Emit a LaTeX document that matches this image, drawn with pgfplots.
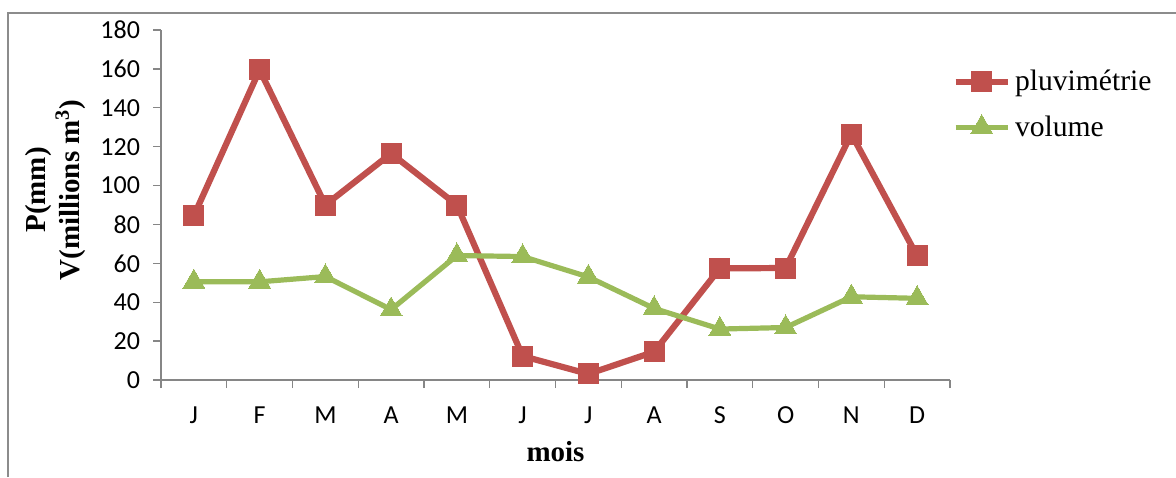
\documentclass[border=0pt]{standalone}
\usepackage{pgfplots}
\pgfplotsset{compat=1.18}
\usepackage{fontspec}
\setmainfont{Liberation Serif}
\newfontfamily\calib{Carlito}
\definecolor{cred}{HTML}{C0504D}
\definecolor{cgreen}{HTML}{9BBB59}
\definecolor{axgray}{HTML}{868686}
\begin{document}
\begin{tikzpicture}
\useasboundingbox (0,0) rectangle (588pt,238.5pt);
\draw[color=gray!90, line width=0.6pt] (4pt,0) -- (4pt,232pt) -- (588pt,232pt);
\begin{axis}[
  at={(80.5pt,48.5pt)}, anchor=south west,
  scale only axis, width=394.5pt, height=175pt,
  xmin=0.5, xmax=12.5, ymin=0, ymax=180,
  axis lines*=left,
  axis line style={draw=axgray, line width=0.7pt},
  xtick={1,...,12},
  xticklabels={J,F,M,A,M,J,J,A,S,O,N,D},
  xtick style={draw=none},
  minor xtick={0.5,1.5,...,12.5},
  minor x tick style={draw=axgray, line width=0.7pt},
  ytick={0,20,...,180},
  ytick style={draw=axgray, line width=0.7pt},
  tick align=outside,
  major tick length=4pt, minor tick length=4pt,
  ticklabel style={font=\calib\fontsize{13}{15}\selectfont},
  /pgf/number format/assume math mode=true,
  yticklabel style={xshift=-3pt},
  xticklabel style={yshift=-6pt},
  xlabel={\textbf{mois}},
  xlabel style={font=\fontsize{14.5}{16}\selectfont, at={(axis description cs:0.5,-0.205)}, anchor=center},
  ylabel={\textbf{P(mm)}\\\textbf{V(millions m\textsuperscript{3})}},
  ylabel style={font=\fontsize{14.5}{17}\selectfont, align=center, at={(axis description cs:-0.134,0.543)}, anchor=center, rotate=0},
  legend style={draw=none, fill=none, at={(axis description cs:0.995,0.91)}, anchor=north west,
    font=\fontsize{14.8}{16}\selectfont, row sep=7pt, cells={anchor=west}},
  legend image code/.code={\draw[mark repeat=2,mark phase=2] plot coordinates {(0cm,0cm)(0.46cm,0cm)(0.92cm,0cm)};},
]
\addplot[color=cred, line width=3.1pt, mark=square*, mark size=5pt, mark options={solid, line width=0pt}]
  coordinates {(1,84.5)(2,159.5)(3,90)(4,116.5)(5,90)(6,12.3)(7,3.1)(8,14.5)(9,57.4)(10,57.6)(11,126.5)(12,63.8)};
\addlegendentry{pluvimétrie}
\addplot[color=cgreen, line width=2.6pt, mark=triangle*, mark size=6.3pt, mark options={solid, line width=0pt}]
  coordinates {(1,50.5)(2,50.5)(3,53.2)(4,36.2)(5,64)(6,63.5)(7,53)(8,36.8)(9,26.2)(10,27)(11,42.8)(12,42)};
\addlegendentry{volume}
\end{axis}
\end{tikzpicture}
\end{document}
